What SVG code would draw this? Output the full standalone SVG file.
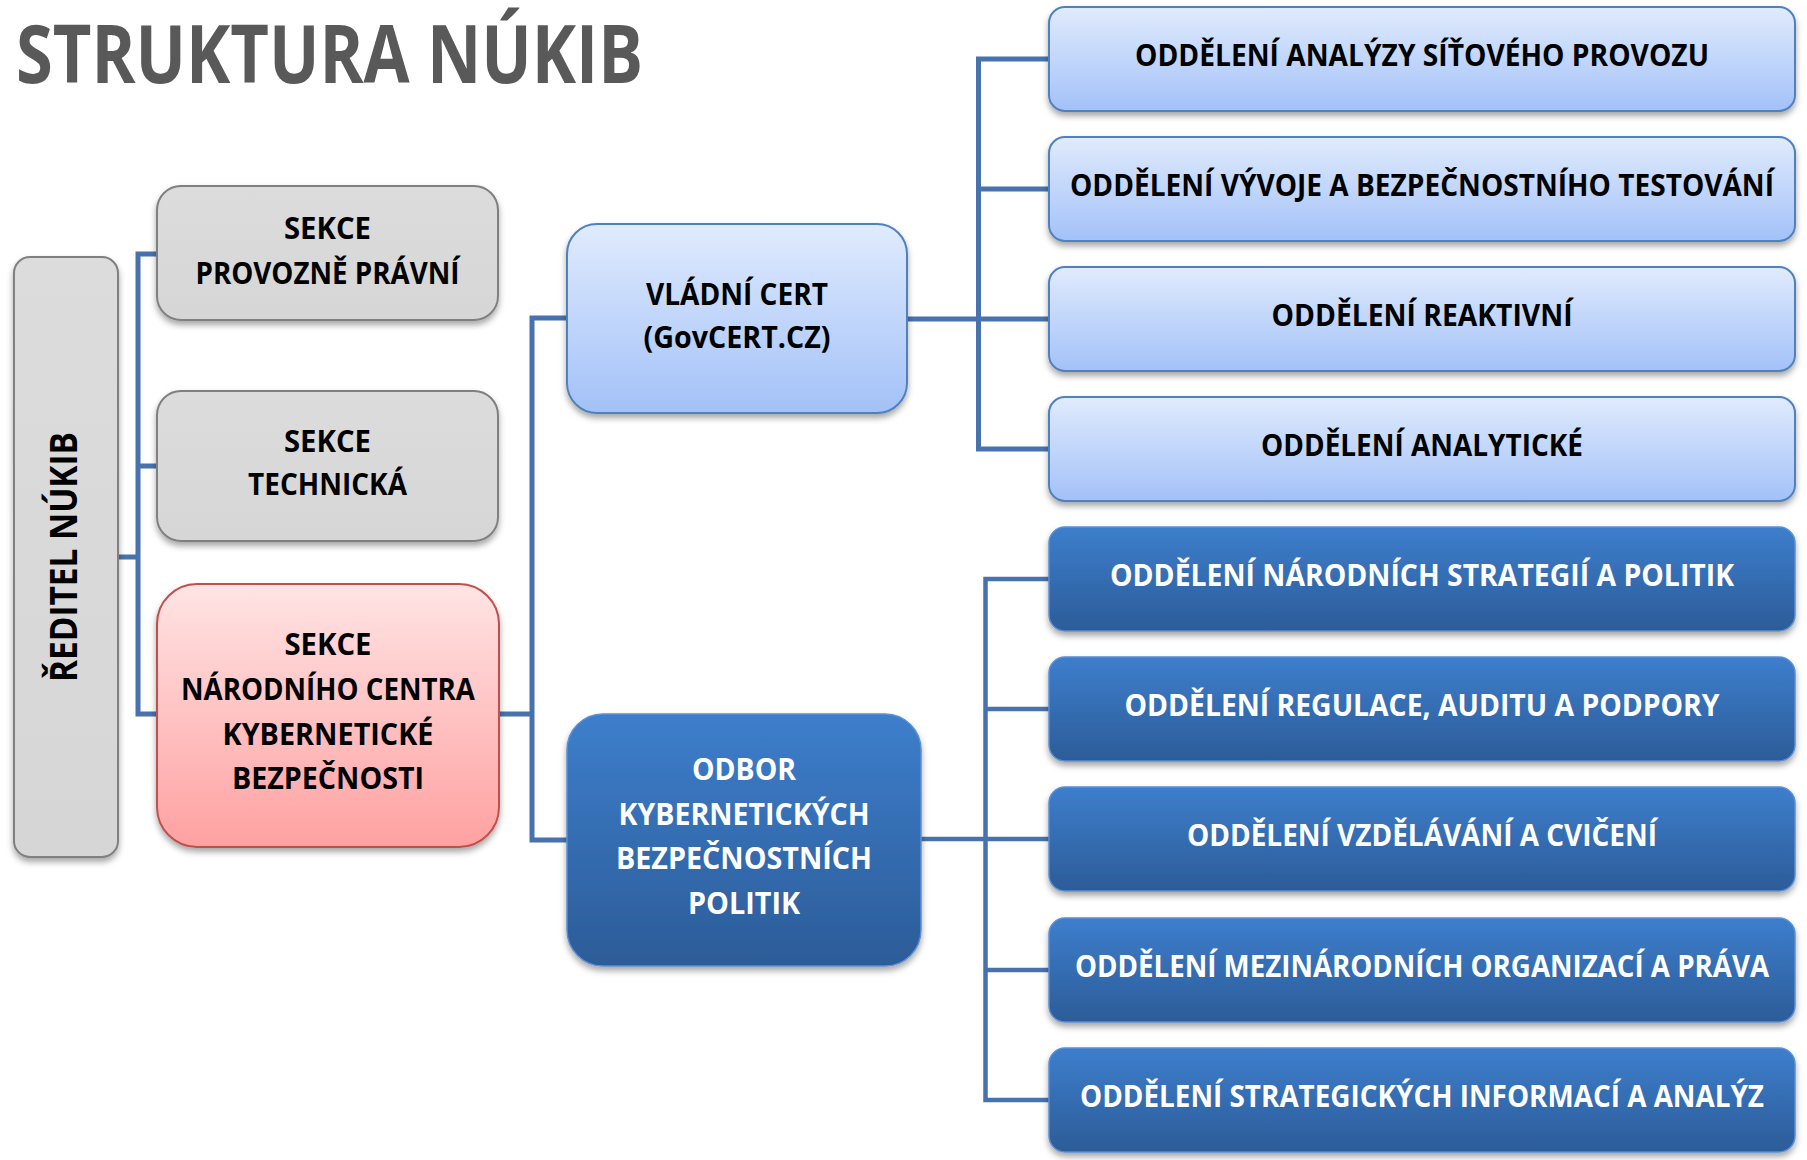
<svg xmlns="http://www.w3.org/2000/svg" width="1807" height="1160" viewBox="0 0 1807 1160">
<defs>
<linearGradient id="gGray" x1="0" y1="0" x2="0" y2="1"><stop offset="0" stop-color="#dcdcdc"/><stop offset="1" stop-color="#d6d6d6"/></linearGradient>
<linearGradient id="gRed" x1="0" y1="0" x2="0" y2="1"><stop offset="0" stop-color="#ffe4e4"/><stop offset="1" stop-color="#ffa1a1"/></linearGradient>
<linearGradient id="gLight" x1="0" y1="0" x2="0" y2="1"><stop offset="0" stop-color="#e0ebfd"/><stop offset="1" stop-color="#a3c1f8"/></linearGradient>
<linearGradient id="gDark" x1="0" y1="0" x2="0" y2="1"><stop offset="0" stop-color="#3d7ecc"/><stop offset="1" stop-color="#2c5c98"/></linearGradient>
<filter id="sh" x="-10%" y="-10%" width="120%" height="130%"><feDropShadow dx="0" dy="4" stdDeviation="3" flood-color="#000" flood-opacity="0.35"/></filter>
</defs>
<style>
.t{font-family:"Open Sans","Noto Sans","Liberation Sans",sans-serif;font-weight:700;}
.lb{font-size:31px;fill:#000;text-anchor:middle;}
.wb{font-size:31px;fill:#fff;text-anchor:middle;}
.gray{fill:url(#gGray);stroke:#808080;stroke-width:2;filter:url(#sh);}
.red{fill:url(#gRed);stroke:#c0504d;stroke-width:2;filter:url(#sh);}
.light{fill:url(#gLight);stroke:#4f81bd;stroke-width:2;filter:url(#sh);}
.dark{fill:url(#gDark);stroke:#5b8fd3;stroke-width:1.5;filter:url(#sh);}
.c{fill:none;stroke:#4872ad;stroke-width:5;stroke-linecap:square;}
.c2{fill:none;stroke:#4872ad;stroke-width:4.5;stroke-linecap:square;}
</style>
<rect width="1807" height="1160" fill="#fff"/>
<text class="t" x="16" y="83" font-size="80" font-weight="600" fill="#595959" textLength="627" lengthAdjust="spacingAndGlyphs">STRUKTURA NÚKIB</text>

<g id="connectors">
<path class="c" d="M118 557H138M138 254V714M138 254H157M138 466H157M138 714H157"/>
<path class="c" d="M499 714H532M532 318V840M532 318H567M532 840H567"/>
<path class="c" d="M907 319H1049M978.5 59V449M978.5 59H1049M978.5 189H1049M978.5 449H1049"/>
<path class="c2" d="M921 839H1049M985.5 579V1100M985.5 579H1049M985.5 709H1049M985.5 970H1049M985.5 1100H1049"/>
</g>

<g id="reditel">
<rect class="gray" x="14" y="257" width="104" height="600" rx="16"/>
<text class="t" transform="translate(77,557) rotate(-90)" font-size="37" text-anchor="middle" fill="#000" textLength="250" lengthAdjust="spacingAndGlyphs">ŘEDITEL NÚKIB</text>
</g>

<g id="sekce-pp">
<rect class="gray" x="157" y="186" width="341" height="134" rx="24"/>
<text class="t lb" x="327.5" y="239" textLength="87" lengthAdjust="spacingAndGlyphs">SEKCE</text>
<text class="t lb" x="327.5" y="284" textLength="264" lengthAdjust="spacingAndGlyphs">PROVOZNĚ PRÁVNÍ</text>
</g>

<g id="sekce-tech">
<rect class="gray" x="157" y="391" width="341" height="150" rx="24"/>
<text class="t lb" x="327.5" y="452" textLength="87" lengthAdjust="spacingAndGlyphs">SEKCE</text>
<text class="t lb" x="327.5" y="495" textLength="159" lengthAdjust="spacingAndGlyphs">TECHNICKÁ</text>
</g>

<g id="sekce-nckb">
<rect class="red" x="157" y="584" width="342" height="263" rx="40"/>
<text class="t lb" x="328" y="655" textLength="87" lengthAdjust="spacingAndGlyphs">SEKCE</text>
<text class="t lb" x="328" y="700" textLength="294" lengthAdjust="spacingAndGlyphs">NÁRODNÍHO CENTRA</text>
<text class="t lb" x="328" y="745" textLength="211" lengthAdjust="spacingAndGlyphs">KYBERNETICKÉ</text>
<text class="t lb" x="328" y="789" textLength="192" lengthAdjust="spacingAndGlyphs">BEZPEČNOSTI</text>
</g>

<g id="vladni-cert">
<rect class="light" x="567" y="224" width="340" height="189" rx="30"/>
<text class="t lb" x="737" y="305" textLength="182" lengthAdjust="spacingAndGlyphs">VLÁDNÍ CERT</text>
<text class="t lb" x="737" y="348" textLength="187" lengthAdjust="spacingAndGlyphs">(GovCERT.CZ)</text>
</g>

<g id="odbor">
<rect class="dark" x="567" y="714" width="354" height="252" rx="36"/>
<text class="t wb" x="744" y="780" textLength="104" lengthAdjust="spacingAndGlyphs">ODBOR</text>
<text class="t wb" x="744" y="825" textLength="251" lengthAdjust="spacingAndGlyphs">KYBERNETICKÝCH</text>
<text class="t wb" x="744" y="869" textLength="256" lengthAdjust="spacingAndGlyphs">BEZPEČNOSTNÍCH</text>
<text class="t wb" x="744" y="914" textLength="112" lengthAdjust="spacingAndGlyphs">POLITIK</text>
</g>

<g id="odd-1"><rect class="light" x="1049" y="7" width="746" height="104" rx="16"/>
<text class="t lb" x="1422" y="66" textLength="574" lengthAdjust="spacingAndGlyphs">ODDĚLENÍ ANALÝZY SÍŤOVÉHO PROVOZU</text></g>
<g id="odd-2"><rect class="light" x="1049" y="137" width="746" height="104" rx="16"/>
<text class="t lb" x="1422" y="196" textLength="704" lengthAdjust="spacingAndGlyphs">ODDĚLENÍ VÝVOJE A BEZPEČNOSTNÍHO TESTOVÁNÍ</text></g>
<g id="odd-3"><rect class="light" x="1049" y="267" width="746" height="104" rx="16"/>
<text class="t lb" x="1422" y="326" textLength="301" lengthAdjust="spacingAndGlyphs">ODDĚLENÍ REAKTIVNÍ</text></g>
<g id="odd-4"><rect class="light" x="1049" y="397" width="746" height="104" rx="16"/>
<text class="t lb" x="1422" y="456" textLength="322" lengthAdjust="spacingAndGlyphs">ODDĚLENÍ ANALYTICKÉ</text></g>
<g id="odd-5"><rect class="dark" x="1049" y="527" width="746" height="104" rx="16"/>
<text class="t wb" x="1422" y="586" textLength="624" lengthAdjust="spacingAndGlyphs">ODDĚLENÍ NÁRODNÍCH STRATEGIÍ A POLITIK</text></g>
<g id="odd-6"><rect class="dark" x="1049" y="657" width="746" height="104" rx="16"/>
<text class="t wb" x="1422" y="716" textLength="595" lengthAdjust="spacingAndGlyphs">ODDĚLENÍ REGULACE, AUDITU A PODPORY</text></g>
<g id="odd-7"><rect class="dark" x="1049" y="787" width="746" height="104" rx="16"/>
<text class="t wb" x="1422" y="846" textLength="470" lengthAdjust="spacingAndGlyphs">ODDĚLENÍ VZDĚLÁVÁNÍ A CVIČENÍ</text></g>
<g id="odd-8"><rect class="dark" x="1049" y="918" width="746" height="104" rx="16"/>
<text class="t wb" x="1422" y="977" textLength="694" lengthAdjust="spacingAndGlyphs">ODDĚLENÍ MEZINÁRODNÍCH ORGANIZACÍ A PRÁVA</text></g>
<g id="odd-9"><rect class="dark" x="1049" y="1048" width="746" height="104" rx="16"/>
<text class="t wb" x="1422" y="1107" textLength="684" lengthAdjust="spacingAndGlyphs">ODDĚLENÍ STRATEGICKÝCH INFORMACÍ A ANALÝZ</text></g>
</svg>
